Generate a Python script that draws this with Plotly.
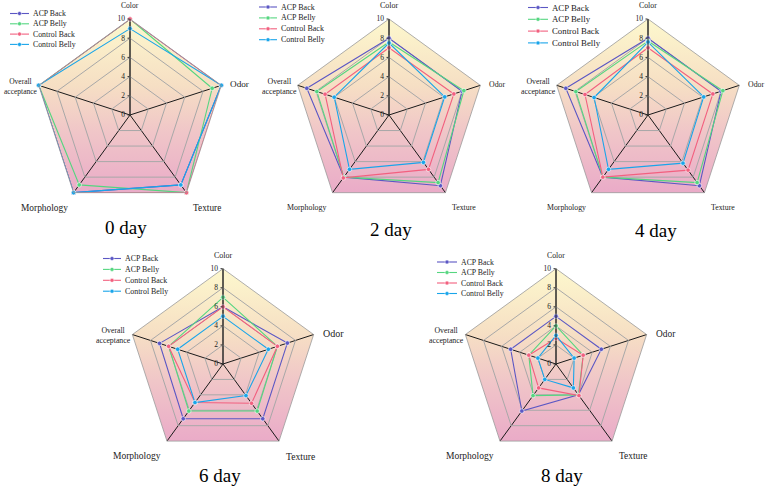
import math
import plotly.graph_objects as go

# ---------------- data ----------------
categories = ["Color", "Odor", "Texture", "Morphology", "Overall acceptance"]
series_names = ["ACP Back", "ACP Belly", "Control Back", "Control Belly"]
series_colors = ["#5b57c4", "#55d680", "#f2607f", "#19a5ea"]
day_labels = ["0 day", "2 day", "4 day", "6 day", "8 day"]
radial_ticks = [0, 2, 4, 6, 8, 10]

day0_acp_back = [10, 10, 9, 10, 10]
day0_acp_belly = [10, 9, 10, 9, 10]
day0_control_back = [10, 10, 10, 10, 10]
day0_control_belly = [9, 10, 9, 10, 10]

day2_acp_back = [8.0, 8.0, 9.1, 8.0, 9.0]
day2_acp_belly = [7.6, 8.2, 8.7, 8.0, 7.9]
day2_control_back = [7.0, 7.1, 7.0, 8.1, 7.0]
day2_control_belly = [7.5, 6.1, 6.1, 7.0, 6.0]

day4_acp_back = [8.0, 8.0, 9.1, 8.0, 9.0]
day4_acp_belly = [7.7, 8.2, 8.7, 8.0, 7.9]
day4_control_back = [7.0, 7.1, 7.1, 8.0, 6.9]
day4_control_belly = [7.6, 6.1, 6.2, 7.0, 5.9]

day6_acp_back = [6.0, 7.1, 7.1, 7.1, 7.0]
day6_acp_belly = [7.0, 6.0, 6.1, 6.1, 6.0]
day6_control_back = [6.0, 6.0, 5.1, 5.0, 6.0]
day6_control_belly = [5.0, 5.0, 4.1, 5.0, 5.0]

day8_acp_back = [5.0, 5.0, 4.0, 6.1, 5.0]
day8_acp_belly = [4.0, 3.0, 4.0, 4.1, 3.0]
day8_control_back = [2.7, 3.0, 4.1, 3.1, 3.0]
day8_control_belly = [3.0, 2.0, 3.1, 2.0, 2.0]

days = [
    [day0_acp_back, day0_acp_belly, day0_control_back, day0_control_belly],
    [day2_acp_back, day2_acp_belly, day2_control_back, day2_control_belly],
    [day4_acp_back, day4_acp_belly, day4_control_back, day4_control_belly],
    [day6_acp_back, day6_acp_belly, day6_control_back, day6_control_belly],
    [day8_acp_back, day8_acp_belly, day8_control_back, day8_control_belly],
]

# ---------------- layout geometry (pixels) ----------------
W, H = 767, 487
FONT = "Liberation Serif, Times New Roman, serif"
panels = [
    dict(cx=130, cy=115, R=96, tx=126, ty=227, lx=10, ly=13.5, ldy=10.3, lfs=7.8, ll=19,
         afs=[7.6, 9.2, 9.3, 9.4, 7.5]),
    dict(cx=389, cy=115, R=96, tx=391, ty=229, lx=259, ly=7, ldy=10.9, lfs=8, ll=18,
         afs=[8, 7.8, 7.8, 7.9, 7.9]),
    dict(cx=648, cy=115, R=96, tx=656, ty=230, lx=528, ly=7.5, ldy=11.8, lfs=8.8, ll=20,
         afs=[7.8, 7.8, 7.8, 7.8, 7.8]),
    dict(cx=223, cy=364, R=95.3, tx=220, ty=475, lx=103, ly=258.5, ldy=10.9, lfs=7.9, ll=18,
         afs=[8, 10, 9.6, 9.5, 7.8]),
    dict(cx=556, cy=364, R=95.3, tx=562, ty=475, lx=437, ly=262, ldy=10.5, lfs=7.8, ll=20,
         afs=[7.8, 9.4, 9.4, 9.5, 7.8]),
]
# placement of each axis label relative to its pentagon vertex: dx, dy, xanchor, yanchor
label_place = [
    (0, -8, "center", "bottom"),
    (8, -1, "left", "middle"),
    (6, 9, "left", "top"),
    (-5, 9, "right", "top"),
    (0, 1, "right", "middle"),
]
bg_scale = [[0, "#eaabc8"], [0.35, "#f0c6c8"], [0.62, "#f6dfc4"], [1, "#fdf8cd"]]

def px(x):
    return x / W

def py(y):
    return 1 - y / H

n = len(categories)
fig = go.Figure()
layout = dict(
    width=W, height=H,
    margin=dict(l=0, r=0, t=0, b=0),
    paper_bgcolor="white", plot_bgcolor="rgba(0,0,0,0)",
    showlegend=False,
    font=dict(family=FONT, color="black"),
)
shapes, annotations = [], []

for i, (p, series) in enumerate(zip(panels, days)):
    k = "" if i == 0 else str(i + 1)
    xd = [px(p["cx"] - p["R"]), px(p["cx"] + p["R"])]
    yd = [py(p["cy"] + p["R"]), py(p["cy"] - p["R"])]
    ang = [math.radians(90 - 360 / n * j) for j in range(n + 1)]

    # gradient background pentagon on a hidden cartesian subplot aligned with the polar
    fig.add_trace(go.Scatter(
        x=[math.cos(a) for a in ang], y=[math.sin(a) for a in ang],
        mode="none", fill="toself", hoverinfo="skip",
        fillgradient=dict(type="vertical", colorscale=bg_scale),
        xaxis="x" + k, yaxis="y" + k,
    ))
    layout["xaxis" + k] = dict(domain=xd, range=[-1, 1], visible=False, fixedrange=True)
    layout["yaxis" + k] = dict(domain=yd, range=[-1, 1], visible=False, fixedrange=True)

    for name, color, vals in zip(series_names, series_colors, series):
        fig.add_trace(go.Scatterpolar(
            r=vals + vals[:1], theta=categories + categories[:1],
            mode="lines+markers", name=name,
            line=dict(color=color, width=1.1),
            marker=dict(size=4.5, color=color, line=dict(color="white", width=0.6)),
            subplot="polar" + k,
        ))

    layout["polar" + k] = dict(
        domain=dict(x=xd, y=yd),
        bgcolor="rgba(0,0,0,0)",
        gridshape="linear",
        radialaxis=dict(range=[0, 10], tickvals=radial_ticks, angle=90, tickangle=90,
                        side="counterclockwise", showline=True, linecolor="#333333",
                        linewidth=1, gridcolor="#a8a8a8", gridwidth=0.8,
                        ticks="outside", ticklen=2, tickcolor="#333333",
                        tickfont=dict(size=7.5, family=FONT, color="#222222")),
        angularaxis=dict(type="category", categoryarray=categories,
                         rotation=90, direction="clockwise",
                         showline=True, linecolor="#9a9a9a", linewidth=0.8,
                         gridcolor="#1a1a1a", gridwidth=1, ticks="",
                         showticklabels=False),
    )

    # axis (category) labels placed next to each pentagon vertex
    for j, cat in enumerate(categories):
        a = math.radians(90 - 360 / n * j)
        vx = p["cx"] + p["R"] * math.cos(a)
        vy = p["cy"] - p["R"] * math.sin(a)
        dx, dy, xa, ya = label_place[j]
        annotations.append(dict(text=cat.replace("Overall ", "Overall<br>"),
                                x=px(vx + dx), y=py(vy + dy), xref="paper", yref="paper",
                                showarrow=False, xanchor=xa, yanchor=ya, align="center",
                                borderpad=0,
                                font=dict(size=p["afs"][j], family=FONT, color="#222222")))

    annotations.append(dict(text=day_labels[i], x=px(p["tx"]), y=py(p["ty"]),
                            xref="paper", yref="paper", showarrow=False,
                            xanchor="center", yanchor="middle",
                            font=dict(size=19, family=FONT, color="black")))

    # compact per-panel legend
    for j, (name, color) in enumerate(zip(series_names, series_colors)):
        yy = p["ly"] + j * p["ldy"]
        x0, x1 = p["lx"], p["lx"] + p["ll"]
        xm = (x0 + x1) / 2
        shapes.append(dict(type="line", xref="paper", yref="paper",
                           x0=px(x0), x1=px(x1), y0=py(yy), y1=py(yy),
                           line=dict(color=color, width=1.1)))
        shapes.append(dict(type="circle", xref="paper", yref="paper",
                           x0=px(xm - 2), x1=px(xm + 2), y0=py(yy + 2), y1=py(yy - 2),
                           fillcolor=color, line=dict(color="white", width=0.5)))
        annotations.append(dict(text=name, x=px(x1 + 3), y=py(yy), xref="paper",
                                yref="paper", showarrow=False, xanchor="left",
                                yanchor="middle", borderpad=0,
                                font=dict(size=p["lfs"], family=FONT, color="#222222")))

layout["shapes"] = shapes
layout["annotations"] = annotations
fig.update_layout(**layout)
fig.write_html("out.html")
